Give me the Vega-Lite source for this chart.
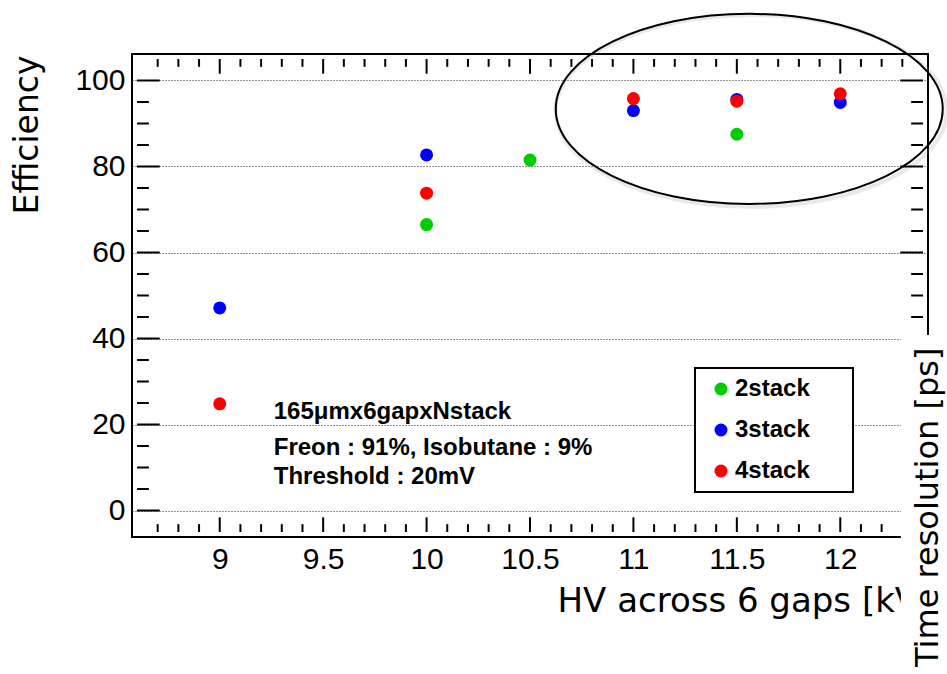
{
  "$schema": "https://vega.github.io/schema/vega-lite/v6.json",
  "width": 796,
  "height": 483,
  "autosize": {"type": "none"},
  "padding": {"left": 132, "top": 54, "right": 19, "bottom": 137},
  "background": "white",
  "config": {
    "view": {"stroke": "black", "strokeWidth": 2},
    "font": "Liberation Sans",
    "axis": {
      "domain": false,
      "ticks": false,
      "labelFont": "Liberation Sans",
      "labelFontSize": 30,
      "labelColor": "black",
      "titleFont": "DejaVu Sans",
      "titleFontWeight": "normal",
      "titleColor": "black",
      "labelFlush": false,
      "labelOverlap": false,
      "grid": false
    },
    "bar": {"color": "black", "opacity": 1, "strokeWidth": 0},
    "legend": {"strokeWidth": 2}
  },
  "datasets": {
    "efficiency": [
      {"hv": 10.0, "eff": 66.5, "series": "2stack"},
      {"hv": 10.5, "eff": 81.5, "series": "2stack"},
      {"hv": 11.5, "eff": 87.5, "series": "2stack"},
      {"hv": 9.0, "eff": 47.1, "series": "3stack"},
      {"hv": 10.0, "eff": 82.7, "series": "3stack"},
      {"hv": 11.0, "eff": 93.0, "series": "3stack"},
      {"hv": 11.5, "eff": 95.6, "series": "3stack"},
      {"hv": 12.0, "eff": 94.9, "series": "3stack"},
      {"hv": 9.0, "eff": 24.8, "series": "4stack"},
      {"hv": 10.0, "eff": 73.8, "series": "4stack"},
      {"hv": 11.0, "eff": 95.8, "series": "4stack"},
      {"hv": 11.5, "eff": 95.2, "series": "4stack"},
      {"hv": 12.0, "eff": 96.9, "series": "4stack"}
    ],
    "highlight": [{"hv": 11.56, "eff": 93.4}],
    "notes": [
      {"hv": 9.261, "eff": 21.25, "text": "165μmx6gapxNstack"},
      {"hv": 9.261, "eff": 12.9, "text": "Freon : 91%, Isobutane : 9%"},
      {"hv": 9.261, "eff": 6.08, "text": "Threshold : 20mV"}
    ],
    "hvMajor": [{"v": 9}, {"v": 9.5}, {"v": 10}, {"v": 10.5}, {"v": 11}, {"v": 11.5}, {"v": 12}],
    "hvMinor": [
      {"v": 8.7}, {"v": 8.8}, {"v": 8.9}, {"v": 9.1}, {"v": 9.2}, {"v": 9.3}, {"v": 9.4},
      {"v": 9.6}, {"v": 9.7}, {"v": 9.8}, {"v": 9.9}, {"v": 10.1}, {"v": 10.2}, {"v": 10.3}, {"v": 10.4},
      {"v": 10.6}, {"v": 10.7}, {"v": 10.8}, {"v": 10.9}, {"v": 11.1}, {"v": 11.2}, {"v": 11.3}, {"v": 11.4},
      {"v": 11.6}, {"v": 11.7}, {"v": 11.8}, {"v": 11.9}, {"v": 12.1}, {"v": 12.2}, {"v": 12.3}
    ],
    "effMajor": [{"v": 0}, {"v": 20}, {"v": 40}, {"v": 60}, {"v": 80}, {"v": 100}],
    "effMinor": [
      {"v": 5}, {"v": 10}, {"v": 15}, {"v": 25}, {"v": 30}, {"v": 35}, {"v": 45}, {"v": 50}, {"v": 55},
      {"v": 65}, {"v": 70}, {"v": 75}, {"v": 85}, {"v": 90}, {"v": 95}
    ]
  },
  "layer": [
    {
      "data": {"values": [{}]},
      "mark": {"type": "rect", "fill": "white", "strokeWidth": 0},
      "encoding": {
        "x": {"datum": 12.293, "type": "quantitative", "scale": {"domain": [8.6, 12.4], "nice": false, "zero": false}, "axis": null},
        "x2": {"datum": 12.7},
        "y": {"datum": 40.8, "type": "quantitative", "scale": {"domain": [-5, 105], "nice": false, "zero": false}, "axis": null},
        "y2": {"datum": -40}
      }
    },
    {
      "data": {"name": "highlight"},
      "mark": {
        "type": "point",
        "shape": "M 1 0 C 1 0.2711 0.5523 0.491 0 0.491 C -0.5523 0.491 -1 0.2711 -1 0 C -1 -0.2711 -0.5523 -0.491 0 -0.491 C 0.5523 -0.491 1 -0.2711 1 0 Z",
        "size": 152881,
        "filled": false,
        "stroke": "#999999",
        "strokeWidth": 4,
        "strokeOpacity": 0.3,
        "xOffset": 2,
        "yOffset": 2
      },
      "encoding": {
        "x": {"field": "hv", "type": "quantitative", "scale": {"domain": [8.6, 12.4], "nice": false, "zero": false}, "axis": null},
        "y": {
          "field": "eff", "type": "quantitative",
          "scale": {"domain": [-5, 105], "nice": false, "zero": false},
          "axis": {
            "orient": "right", "labels": false, "grid": false,
            "title": "Time resolution [ps]", "titleFont": "DejaVu Sans", "titleFontSize": 32,
            "titleAngle": -90, "titleAlign": "right", "titleBaseline": "alphabetic",
            "titleX": 9, "titleY": 293, "zindex": 1
          }
        }
      }
    },
    {
      "data": {"name": "highlight"},
      "mark": {
        "type": "point",
        "shape": "M 1 0 C 1 0.2711 0.5523 0.491 0 0.491 C -0.5523 0.491 -1 0.2711 -1 0 C -1 -0.2711 -0.5523 -0.491 0 -0.491 C 0.5523 -0.491 1 -0.2711 1 0 Z",
        "size": 149769,
        "filled": false,
        "stroke": "black",
        "strokeWidth": 2,
        "opacity": 1
      },
      "encoding": {
        "x": {"field": "hv", "type": "quantitative", "scale": {"domain": [8.6, 12.4], "nice": false, "zero": false}, "axis": null},
        "y": {"field": "eff", "type": "quantitative", "scale": {"domain": [-5, 105], "nice": false, "zero": false}, "axis": null}
      }
    },
    {
      "data": {"name": "notes"},
      "mark": {"type": "text", "align": "left", "baseline": "alphabetic", "font": "Liberation Sans", "fontWeight": "bold", "fontSize": 24, "color": "black"},
      "encoding": {
        "x": {"field": "hv", "type": "quantitative", "scale": {"domain": [8.6, 12.4], "nice": false, "zero": false}, "axis": null},
        "y": {"field": "eff", "type": "quantitative", "scale": {"domain": [-5, 105], "nice": false, "zero": false}, "axis": null},
        "text": {"field": "text"}
      }
    },
    {
      "data": {"name": "efficiency"},
      "mark": {"type": "circle", "size": 169, "opacity": 1},
      "encoding": {
        "x": {
          "field": "hv", "type": "quantitative",
          "scale": {"domain": [8.6, 12.4], "nice": false, "zero": false},
          "axis": {
            "orient": "bottom", "values": [9, 9.5, 10, 10.5, 11, 11.5, 12],
            "labelExpr": "format(datum.value, '~r')", "labelPadding": 7,
            "title": "HV across 6 gaps [kV]", "titleFontSize": 34, "titleAlign": "left", "titleAnchor": "start",
            "titleBaseline": "alphabetic", "titleX": 425, "titleY": 74
          }
        },
        "y": {
          "field": "eff", "type": "quantitative",
          "scale": {"domain": [-5, 105], "nice": false, "zero": false},
          "axis": {
            "orient": "left", "values": [0, 20, 40, 60, 80, 100],
            "format": "d", "labelPadding": 7,
            "grid": true, "gridDash": [1, 2], "gridColor": "#222222", "gridWidth": 1,
            "title": "Efficiency", "titleFontSize": 33, "titleAngle": -90, "titleAlign": "right",
            "titleBaseline": "alphabetic", "titleX": -95, "titleY": 1
          }
        },
        "color": {
          "field": "series", "type": "nominal",
          "scale": {"domain": ["2stack", "3stack", "4stack"], "range": ["#00cc00", "#0000ff", "#ff0000"]},
          "legend": {
            "orient": "none", "legendX": 563, "legendY": 314,
            "title": "\u00a0", "titleOrient": "right", "titlePadding": 34,
            "padding": 9, "fillColor": "white", "strokeColor": "black",
            "labelFont": "Liberation Sans", "labelFontWeight": "bold", "labelFontSize": 24, "labelColor": "black",
            "symbolType": "circle", "symbolSize": 169, "symbolStrokeWidth": 0, "symbolOpacity": 1,
            "rowPadding": 17, "labelOffset": 2, "symbolOffset": 5
          }
        }
      }
    },
    {
      "data": {"name": "hvMajor"},
      "mark": {"type": "bar", "orient": "vertical", "width": 2},
      "encoding": {
        "x": {"field": "v", "type": "quantitative", "scale": {"domain": [8.6, 12.4], "nice": false, "zero": false}, "axis": null},
        "y": {"datum": -5, "type": "quantitative", "scale": {"domain": [-5, 105], "nice": false, "zero": false}, "axis": null},
        "y2": {"datum": -1.584}
      }
    },
    {
      "data": {"name": "hvMinor"},
      "transform": [{"filter": "datum.v < 12.29"}],
      "mark": {"type": "bar", "orient": "vertical", "width": 2},
      "encoding": {
        "x": {"field": "v", "type": "quantitative", "scale": {"domain": [8.6, 12.4], "nice": false, "zero": false}, "axis": null},
        "y": {"datum": -5, "type": "quantitative", "scale": {"domain": [-5, 105], "nice": false, "zero": false}, "axis": null},
        "y2": {"datum": -3.178}
      }
    },
    {
      "data": {"name": "hvMajor"},
      "mark": {"type": "bar", "orient": "vertical", "width": 2},
      "encoding": {
        "x": {"field": "v", "type": "quantitative", "scale": {"domain": [8.6, 12.4], "nice": false, "zero": false}, "axis": null},
        "y": {"datum": 105, "type": "quantitative", "scale": {"domain": [-5, 105], "nice": false, "zero": false}, "axis": null},
        "y2": {"datum": 101.584}
      }
    },
    {
      "data": {"name": "hvMinor"},
      "mark": {"type": "bar", "orient": "vertical", "width": 2},
      "encoding": {
        "x": {"field": "v", "type": "quantitative", "scale": {"domain": [8.6, 12.4], "nice": false, "zero": false}, "axis": null},
        "y": {"datum": 105, "type": "quantitative", "scale": {"domain": [-5, 105], "nice": false, "zero": false}, "axis": null},
        "y2": {"datum": 103.178}
      }
    },
    {
      "data": {"name": "effMajor"},
      "mark": {"type": "bar", "orient": "horizontal", "height": 2},
      "encoding": {
        "x": {"datum": 8.6, "type": "quantitative", "scale": {"domain": [8.6, 12.4], "nice": false, "zero": false}, "axis": null},
        "x2": {"datum": 8.7098},
        "y": {"field": "v", "type": "quantitative", "scale": {"domain": [-5, 105], "nice": false, "zero": false}, "axis": null}
      }
    },
    {
      "data": {"name": "effMinor"},
      "mark": {"type": "bar", "orient": "horizontal", "height": 2},
      "encoding": {
        "x": {"datum": 8.6, "type": "quantitative", "scale": {"domain": [8.6, 12.4], "nice": false, "zero": false}, "axis": null},
        "x2": {"datum": 8.6573},
        "y": {"field": "v", "type": "quantitative", "scale": {"domain": [-5, 105], "nice": false, "zero": false}, "axis": null}
      }
    },
    {
      "data": {"name": "effMajor"},
      "transform": [{"filter": "datum.v > 40.8"}],
      "mark": {"type": "bar", "orient": "horizontal", "height": 2},
      "encoding": {
        "x": {"datum": 12.2902, "type": "quantitative", "scale": {"domain": [8.6, 12.4], "nice": false, "zero": false}, "axis": null},
        "x2": {"datum": 12.4},
        "y": {"field": "v", "type": "quantitative", "scale": {"domain": [-5, 105], "nice": false, "zero": false}, "axis": null}
      }
    },
    {
      "data": {"name": "effMinor"},
      "transform": [{"filter": "datum.v > 40.8"}],
      "mark": {"type": "bar", "orient": "horizontal", "height": 2},
      "encoding": {
        "x": {"datum": 12.3427, "type": "quantitative", "scale": {"domain": [8.6, 12.4], "nice": false, "zero": false}, "axis": null},
        "x2": {"datum": 12.4},
        "y": {"field": "v", "type": "quantitative", "scale": {"domain": [-5, 105], "nice": false, "zero": false}, "axis": null}
      }
    }
  ],
  "resolve": {"axis": {"x": "independent", "y": "independent"}}
}
